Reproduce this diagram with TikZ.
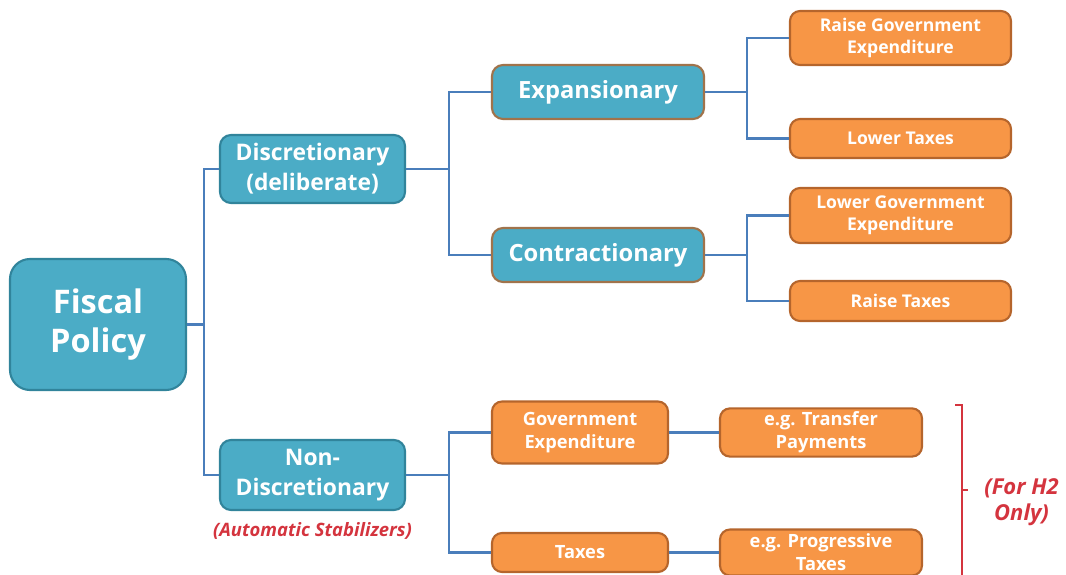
\documentclass[tikz,border=0pt]{standalone}
\usepackage{fontspec}
\setmainfont{Open Sans}
\usepackage{xcolor}
\usepackage{tikz}
\usetikzlibrary{positioning}

\definecolor{tealfill}{HTML}{4BACC6}
\definecolor{tealedge}{HTML}{31849B}
\definecolor{orangefill}{HTML}{F79646}
\definecolor{orangeedge}{HTML}{B5652C}
\definecolor{linkblue}{HTML}{4A7EBB}
\definecolor{notered}{HTML}{D4343E}

\begin{document}
\begin{tikzpicture}[
    tealbox/.style={draw=tealedge, line width=1.2pt, fill=tealfill, rounded corners=0.22cm, align=center, text=white, font=\fontsize{13}{17}\selectfont\bfseries, inner sep=2pt},
    typebox/.style={tealbox, draw=orangeedge!80!tealfill, minimum width=4.24cm, minimum height=1.08cm, font=\fontsize{13.5}{17}\selectfont\bfseries},
    leaf/.style={draw=orangeedge, line width=1.2pt, fill=orangefill, rounded corners=0.2cm, align=center, text=white, font=\fontsize{10}{12.5}\selectfont\bfseries, inner sep=2pt, minimum width=4.42cm},
    auto_leaf/.style={leaf, font=\fontsize{10.4}{13}\selectfont\bfseries},
    link_line/.style={line width=1.4pt, draw=linkblue},
    note_text/.style={text=notered, font=\bfseries\itshape, align=center}
]
    \useasboundingbox (0,0) rectangle (21.32,-11.5);

    % Root
    \node (fiscal) [tealbox, rounded corners=0.4cm, minimum width=3.52cm, minimum height=2.62cm, font=\fontsize{18.5}{22}\selectfont\bfseries] at (1.96, -6.49) {Fiscal\\Policy};

    % Two kinds
    \node (disc) [tealbox, minimum width=3.70cm, minimum height=1.36cm] at (6.25, -3.38) {Discretionary\\(deliberate)};
    \node (nondisc) [tealbox, minimum width=3.70cm, minimum height=1.40cm] at (6.25, -9.50) {Non-\\Discretionary};
    \node (auto_label) [note_text, font=\fontsize{10.5}{12}\selectfont\bfseries\itshape, below=0.1cm of nondisc] {(Automatic Stabilizers)};

    % Discretionary branch
    \node (exp) [typebox] at (11.96, -1.84) {Expansionary};
    \node (contr) [typebox] at (11.96, -5.10) {Contractionary};

    \node (raise_gov) [leaf, minimum height=1.08cm] at (18.01, -0.76) {Raise Government\\Expenditure};
    \node (lower_tax) [leaf, minimum height=0.78cm] at (18.01, -2.77) {Lower Taxes};
    \node (lower_gov) [leaf, minimum height=1.10cm] at (18.01, -4.31) {Lower Government\\Expenditure};
    \node (raise_tax) [leaf, minimum height=0.80cm] at (18.01, -6.02) {Raise Taxes};

    % Non-discretionary branch
    \node (gov_exp) [auto_leaf, minimum width=3.52cm, minimum height=1.24cm] at (11.60, -8.65) {Government\\Expenditure};
    \node (taxes) [auto_leaf, minimum width=3.52cm, minimum height=0.78cm] at (11.60, -11.05) {Taxes};
    \node (transfer) [auto_leaf, minimum width=4.04cm, minimum height=0.96cm] at (16.42, -8.65) {e.g. Transfer\\Payments};
    \node (prog_tax) [auto_leaf, minimum width=4.04cm, minimum height=0.92cm] at (16.42, -11.05) {e.g. Progressive\\Taxes};

    % Links
    \draw [link_line] (fiscal.east) -- ++(0.34, 0) |- (disc.west);
    \draw [link_line] (fiscal.east) -- ++(0.34, 0) |- (nondisc.west);
    \draw [link_line] (disc.east) -- ++(0.86, 0) |- (exp.west);
    \draw [link_line] (disc.east) -- ++(0.86, 0) |- (contr.west);
    \draw [link_line] (exp.east) -- ++(0.84, 0) |- (raise_gov.west);
    \draw [link_line] (exp.east) -- ++(0.84, 0) |- (lower_tax.west);
    \draw [link_line] (contr.east) -- ++(0.84, 0) |- (lower_gov.west);
    \draw [link_line] (contr.east) -- ++(0.84, 0) |- (raise_tax.west);
    \draw [link_line] (nondisc.east) -- ++(0.86, 0) |- (gov_exp.west);
    \draw [link_line] (nondisc.east) -- ++(0.86, 0) |- (taxes.west);
    \draw [link_line] (gov_exp.east) -- (transfer.west);
    \draw [link_line] (taxes.east) -- (prog_tax.west);

    % H2 bracket
    \coordinate (brace_top) at (19.10, -8.10);
    \coordinate (brace_mid) at (19.24, -9.80);
    \draw [notered, line width=1pt] (brace_top) -- ++(0.14, 0) -- (19.24, -11.7);
    \draw [notered, line width=1pt] (brace_mid) -- ++(0.12, 0);
    \node (h2_label) [note_text, font=\fontsize{12.5}{14.5}\selectfont\bfseries\itshape, anchor=west, inner sep=0pt] at (19.68, -10.04) {(For H2\\Only)};
\end{tikzpicture}
\end{document}
